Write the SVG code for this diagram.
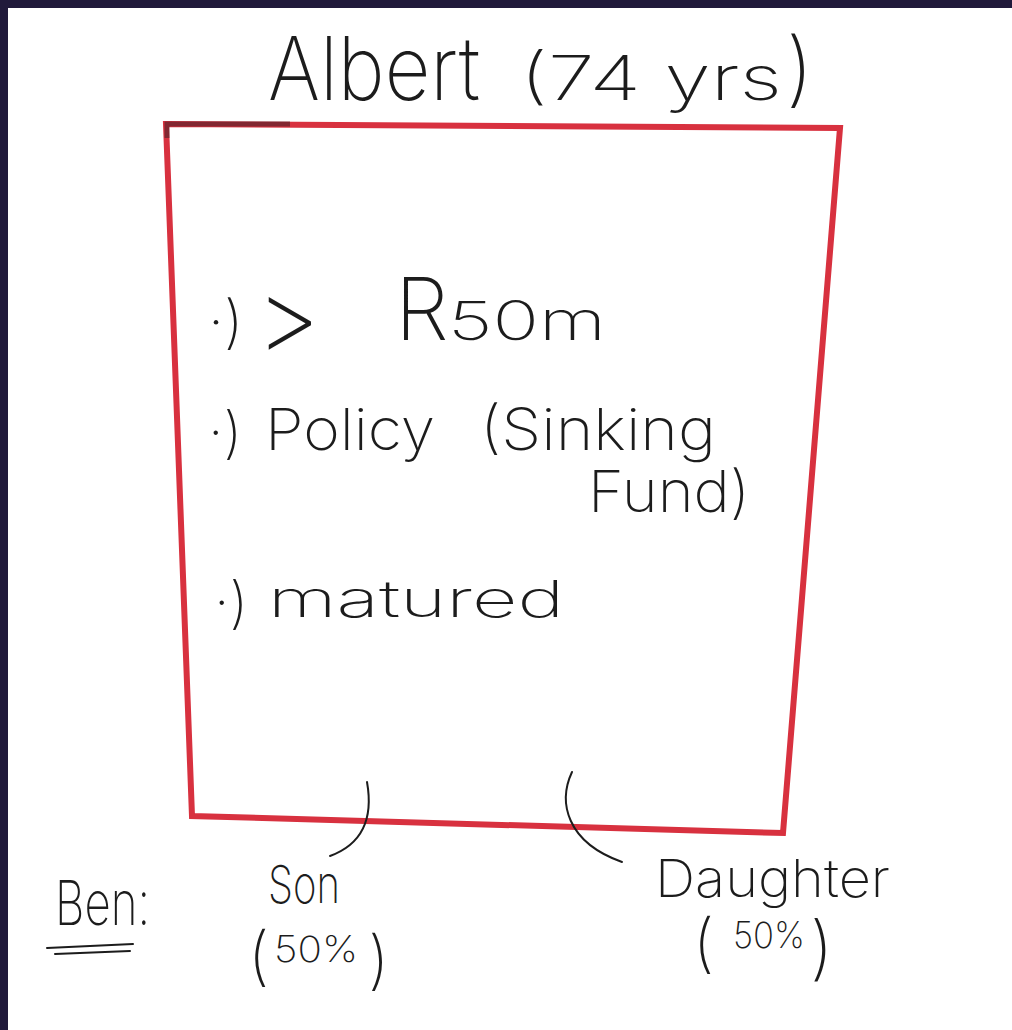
<svg xmlns="http://www.w3.org/2000/svg" width="1012" height="1030" viewBox="0 0 1012 1030">
  <style>
    .hand { font-family: Inter, "Open Sans", "Liberation Sans", sans-serif; font-weight: 200; fill: #1c1c1c; }
    .ink { fill: none; stroke: #1c1c1c; stroke-width: 2; stroke-linecap: round; }
    .frame { fill: none; stroke: #d8313f; stroke-width: 6; stroke-linejoin: miter; }
  </style>

  <!-- page background and dark window edges -->
  <rect x="0" y="0" width="1012" height="1030" fill="#ffffff"/>
  <rect x="0" y="0" width="1012" height="8" fill="#211a3b"/>
  <rect x="0" y="0" width="8" height="1030" fill="#211a3b"/>

  <!-- title -->
  <g id="title">
    <text class="hand" x="268" y="100" font-size="88" textLength="212" lengthAdjust="spacingAndGlyphs">Albert</text>
    <text class="hand" x="520" y="100" font-size="62" textLength="262" lengthAdjust="spacingAndGlyphs">(74 yrs</text>
    <text class="hand" x="786" y="97" font-size="82">)</text>
  </g>

  <!-- estate box -->
  <g id="estate">
    <path class="frame" d="M166,124 L840,128 L783,833 L192,816 Z"/>
    <path d="M167,138 L167,124 L290,124" fill="none" stroke="#4a2228" stroke-width="5" opacity="0.6"/>

    <g id="item-value">
      <text class="hand" x="208" y="342" font-size="58">·)</text>
      <text class="hand" x="255" y="352" font-size="100" textLength="66" lengthAdjust="spacingAndGlyphs">&gt;</text>
      <text class="hand" x="395" y="340" font-size="86">R</text>
      <text class="hand" x="448" y="340" font-size="54" textLength="158" lengthAdjust="spacingAndGlyphs">50m</text>
    </g>

    <g id="item-policy">
      <text class="hand" x="208" y="452" font-size="56">·)</text>
      <text class="hand" x="265" y="450" font-size="58" textLength="170" lengthAdjust="spacingAndGlyphs">Policy</text>
      <text class="hand" x="480" y="450" font-size="58" textLength="236" lengthAdjust="spacingAndGlyphs">(Sinking</text>
      <text class="hand" x="588" y="512" font-size="58" textLength="162" lengthAdjust="spacingAndGlyphs">Fund)</text>
    </g>

    <g id="item-matured">
      <text class="hand" x="214" y="622" font-size="56">·)</text>
      <text class="hand" x="268" y="617" font-size="50" textLength="296" lengthAdjust="spacingAndGlyphs">matured</text>
    </g>
  </g>

  <!-- beneficiaries -->
  <g id="ben-label">
    <text class="hand" x="55" y="925" font-size="62" textLength="95" lengthAdjust="spacingAndGlyphs">Ben:</text>
    <path class="ink" d="M47,948 L133,944 M55,954 L130,951"/>
  </g>

  <g id="son">
    <text class="hand" x="268" y="903" font-size="52" textLength="72" lengthAdjust="spacingAndGlyphs">Son</text>
    <text class="hand" x="248" y="978" font-size="64">(</text>
    <text class="hand" x="274" y="962" font-size="36" textLength="84" lengthAdjust="spacingAndGlyphs">50%</text>
    <text class="hand" x="368" y="982" font-size="64">)</text>
  </g>

  <g id="daughter">
    <text class="hand" x="655" y="897" font-size="52" textLength="235" lengthAdjust="spacingAndGlyphs">Daughter</text>
    <text class="hand" x="693" y="965" font-size="64">(</text>
    <text class="hand" x="733" y="948" font-size="36" textLength="72" lengthAdjust="spacingAndGlyphs">50%</text>
    <text class="hand" x="810" y="972" font-size="70">)</text>
  </g>

  <!-- links from the estate to each beneficiary -->
  <g id="connectors">
    <path class="ink" d="M367,782 C372,810 368,842 330,856"/>
    <path class="ink" d="M572,772 C558,802 566,842 622,862"/>
  </g>
</svg>
